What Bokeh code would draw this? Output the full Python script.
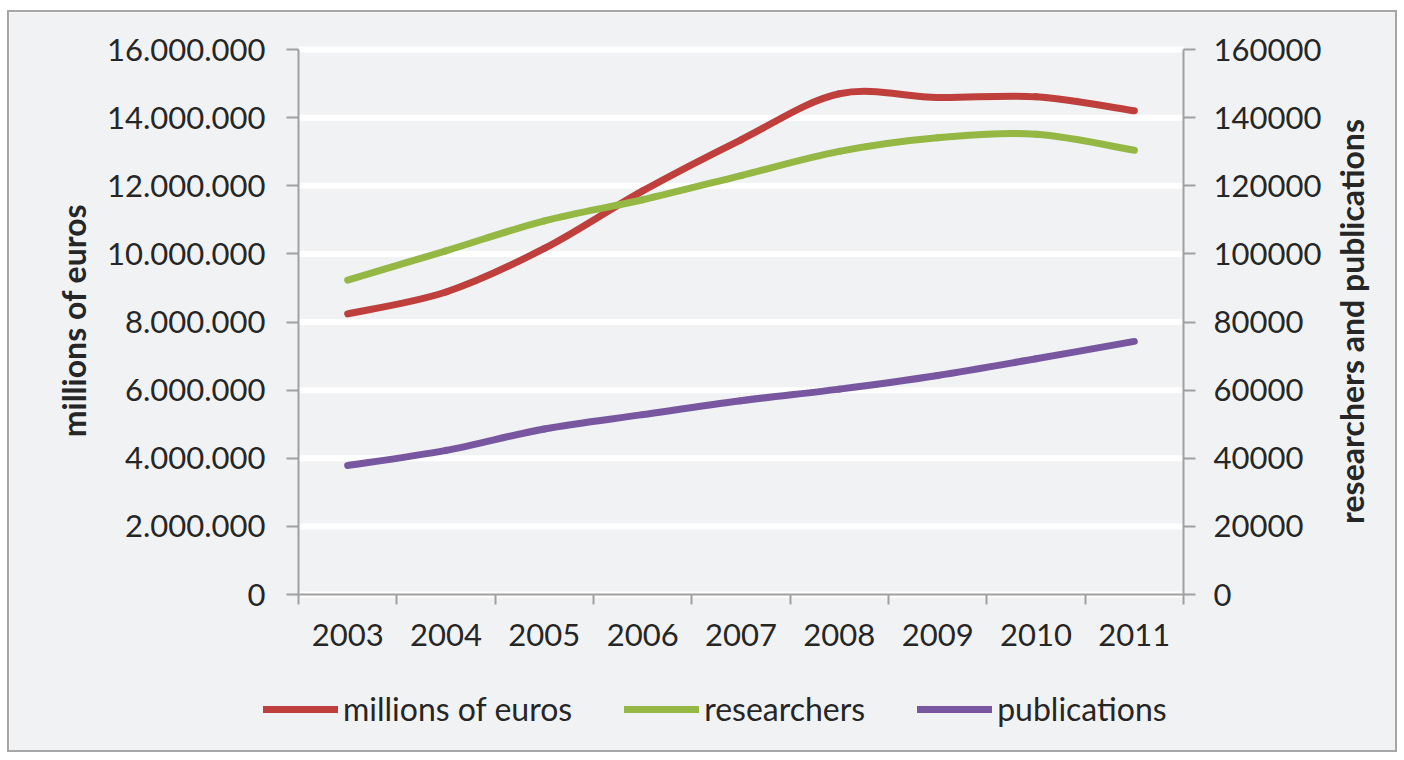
import math
from bokeh.plotting import figure
from bokeh.models import (Range1d, LinearAxis, FixedTicker, Legend, LegendItem,
                          ColumnDataSource, Label)
from bokeh.embed import file_html
from bokeh.resources import INLINE

# ---------------- data ----------------
years = ["2003", "2004", "2005", "2006", "2007", "2008", "2009", "2010", "2011"]
euros = [8240000, 8880000, 10160000, 11850000, 13350000, 14700000, 14590000, 14610000, 14200000]
researchers = [92300, 100900, 109700, 115900, 123000, 130100, 134100, 135100, 130400]
publications = [37850, 42300, 48600, 52800, 56900, 60300, 64300, 69200, 74300]

left_ticks = [0, 2000000, 4000000, 6000000, 8000000, 10000000, 12000000, 14000000, 16000000]
left_tick_labels = ["0", "2.000.000", "4.000.000", "6.000.000", "8.000.000",
                    "10.000.000", "12.000.000", "14.000.000", "16.000.000"]
right_ticks = [0, 20000, 40000, 60000, 80000, 100000, 120000, 140000, 160000]
right_tick_labels = ["0", "20000", "40000", "60000", "80000", "100000", "120000", "140000", "160000"]

series_names = ["millions of euros", "researchers", "publications"]
left_title = "millions of euros"
right_title = "researchers and publications"

# ---------------- layout (pixels on the canvas) ----------------
W, H = 1390, 742                 # canvas size
PL, PR = 289, 1174               # plot area left / right (canvas px)
PT, PB = 37, 582                 # plot area top / bottom (canvas px)
ncat = len(years)
xpp = ncat / (PR - PL)           # data units per px (x)
x_lo = -0.5 - PL * xpp
x_hi = ncat - 0.5 + (W - PR) * xpp


def y_limits(vmax):
    vpp = vmax / (PB - PT)
    return -(H - PB) * vpp, vmax + PT * vpp


FONT = "Lato"
TXT = "#262626"
AX = "#A0A0A0"
BG = "#F1F2F4"
TICK_FS = "31px"
colors = ["#BF3F3C", "#95B845", "#7857A0"]

yl_lo, yl_hi = y_limits(left_ticks[-1])
yr_lo, yr_hi = y_limits(right_ticks[-1])

p = figure(width=W, height=H, output_backend="svg", toolbar_location=None,
           x_range=Range1d(x_lo, x_hi), y_range=Range1d(yl_lo, yl_hi),
           min_border=0, min_border_left=0, min_border_right=0, min_border_top=0, min_border_bottom=0,
           background_fill_color=BG, border_fill_color=BG, outline_line_color=None)
p.styles = {"margin-left": "7px", "margin-top": "10px", "border": "2px solid #A6A6A6"}
p.extra_y_ranges = {"right": Range1d(yr_lo, yr_hi)}

# horizontal white grid lines between the two value axes
p.xgrid.visible = False
p.ygrid.visible = False
p.segment(x0=[-0.5] * len(left_ticks), x1=[ncat - 0.5] * len(left_ticks),
          y0=left_ticks, y1=left_ticks, line_color="white", line_width=6, level="underlay")

# x axis (drawn at y = 0)
xa = p.xaxis[0]
xa.fixed_location = 0
xa.bounds = (-0.5, ncat - 0.5)
xa.ticker = FixedTicker(ticks=list(range(ncat)),
                        minor_ticks=[i - 0.5 for i in range(ncat + 1)])
xa.major_label_overrides = {i: y for i, y in enumerate(years)}
xa.major_tick_line_color = None
xa.minor_tick_line_color = AX
xa.minor_tick_line_width = 2
xa.minor_tick_out = 10
xa.minor_tick_in = 0
xa.axis_line_color = AX
xa.axis_line_width = 2
xa.major_label_standoff = 19
xa.major_label_text_font = FONT
xa.major_label_text_font_size = TICK_FS
xa.major_label_text_color = TXT

# left axis
ya = p.yaxis[0]
ya.fixed_location = -0.5
ya.bounds = (left_ticks[0], left_ticks[-1])
ya.ticker = FixedTicker(ticks=left_ticks, minor_ticks=[])
ya.major_label_overrides = {int(t): s for t, s in zip(left_ticks, left_tick_labels)}
ya.major_tick_line_color = AX
ya.major_tick_line_width = 2
ya.major_tick_out = 12
ya.major_tick_in = 0
ya.axis_line_color = AX
ya.axis_line_width = 2
ya.major_label_standoff = 21
ya.major_label_text_font = FONT
ya.major_label_text_font_size = TICK_FS
ya.major_label_text_color = TXT

# right axis
ra = LinearAxis(y_range_name="right")
ra.fixed_location = ncat - 0.5
ra.bounds = (right_ticks[0], right_ticks[-1])
ra.ticker = FixedTicker(ticks=right_ticks, minor_ticks=[])
ra.major_label_overrides = {int(t): s for t, s in zip(right_ticks, right_tick_labels)}
ra.major_tick_line_color = AX
ra.major_tick_line_width = 2
ra.major_tick_out = 12
ra.major_tick_in = 0
ra.axis_line_color = AX
ra.axis_line_width = 2
ra.major_label_standoff = 18
ra.major_label_text_font = FONT
ra.major_label_text_font_size = TICK_FS
ra.major_label_text_color = TXT
p.add_layout(ra, "right")

# axis titles (both read bottom-to-top)
p.add_layout(Label(x=64, y=H - 308, x_units="screen", y_units="screen", text=left_title,
                   angle=math.pi / 2, text_align="center", text_baseline="middle",
                   text_font=FONT, text_font_style="bold", text_font_size="32px",
                   text_color=TXT))
p.add_layout(Label(x=1342, y=H - 309, x_units="screen", y_units="screen", text=right_title,
                   angle=math.pi / 2, text_align="center", text_baseline="middle",
                   text_font=FONT, text_font_style="bold", text_font_size="32px",
                   text_color=TXT))


def smooth_source(xs, ys):
    n = len(xs)
    d = dict(x0=[], y0=[], x1=[], y1=[], cx0=[], cy0=[], cx1=[], cy1=[])
    for i in range(n - 1):
        a = max(i - 1, 0)
        b = min(i + 2, n - 1)
        d["x0"].append(xs[i]); d["y0"].append(ys[i])
        d["x1"].append(xs[i + 1]); d["y1"].append(ys[i + 1])
        d["cx0"].append(xs[i] + (xs[i + 1] - xs[a]) / 6.0)
        d["cy0"].append(ys[i] + (ys[i + 1] - ys[a]) / 6.0)
        d["cx1"].append(xs[i + 1] - (xs[b] - xs[i]) / 6.0)
        d["cy1"].append(ys[i + 1] - (ys[b] - ys[i]) / 6.0)
    return ColumnDataSource(d)


xs = list(range(ncat))
all_series = [(euros, "default"), (researchers, "right"), (publications, "right")]
items = []
for (vals, rng), col, name in zip(all_series, colors, series_names):
    src = smooth_source(xs, vals)
    r = p.bezier(x0="x0", y0="y0", x1="x1", y1="y1", cx0="cx0", cy0="cy0", cx1="cx1", cy1="cy1",
                 source=src, line_color=col, line_width=7, line_cap="round", y_range_name=rng)
    items.append(LegendItem(label=name, renderers=[r]))

legend = Legend(items=items, orientation="horizontal", location=(254, 26),
                glyph_width=75, glyph_height=32, label_height=32, label_standoff=5, spacing=52,
                padding=0, margin=0, border_line_color=None, background_fill_alpha=0,
                label_text_font=FONT, label_text_font_size="32px", label_text_color=TXT)
p.add_layout(legend, "center")

open("out.html", "w").write(file_html(p, INLINE))
